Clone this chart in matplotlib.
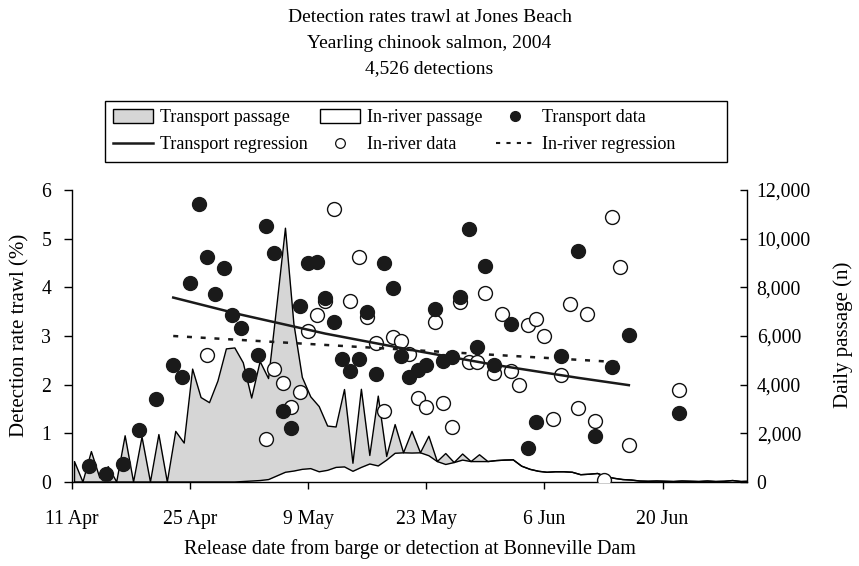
import numpy as np
import matplotlib
matplotlib.use("Agg")
import matplotlib.pyplot as plt
from matplotlib.patches import Patch, Rectangle
from matplotlib.lines import Line2D
from matplotlib.ticker import FuncFormatter

plt.rcParams["font.family"] = ["Liberation Serif", "DejaVu Serif"]

# ---- data (days counted from 11 April 2004) ----
tick_days = [0, 14, 28, 42, 56, 70]
tick_labels = ["11 Apr", "25 Apr", "9 May", "23 May", "6 Jun", "20 Jun"]

transport_days = [2, 4, 6, 8, 10, 12, 13, 14, 15, 16, 17, 18, 19, 20, 21, 22, 23, 24,
                  25, 26, 27, 28, 29, 30, 31, 32, 33, 34, 35, 36, 37, 38, 39, 40, 41,
                  42, 43, 44, 45, 46, 47, 48, 49, 50, 52, 54, 55, 58, 60, 62, 64, 66, 72]
transport_rate = [0.33, 0.17, 0.37, 1.06, 1.70, 2.40, 2.15, 4.08, 5.71, 4.62, 3.87, 4.39,
                  3.44, 3.17, 2.19, 2.61, 5.26, 4.70, 1.45, 1.10, 3.62, 4.49, 4.53, 3.79,
                  3.29, 2.53, 2.28, 2.53, 3.50, 2.22, 4.51, 3.99, 2.58, 2.16, 2.30, 2.40,
                  3.56, 2.49, 2.57, 3.80, 5.20, 2.77, 4.43, 2.41, 3.24, 0.70, 1.24, 2.59,
                  4.75, 0.95, 2.36, 3.03, 1.41]

inriver_days = [16, 23, 24, 25, 26, 27, 28, 29, 30, 31, 33, 34, 35, 36, 37, 38, 39, 40,
                41, 42, 43, 44, 45, 46, 47, 48, 49, 50, 51, 52, 53, 54, 55, 56, 57, 58,
                59, 60, 61, 62, 63, 64, 65, 66, 72]
inriver_rate = [2.61, 0.89, 2.32, 2.04, 1.54, 1.84, 3.11, 3.44, 3.71, 5.60, 3.72, 4.62,
                3.39, 2.85, 1.46, 2.98, 2.89, 2.63, 1.73, 1.54, 3.29, 1.63, 1.14, 3.70,
                2.46, 2.47, 3.89, 2.23, 3.46, 2.28, 1.99, 3.22, 3.35, 2.99, 1.30, 2.20,
                3.66, 1.53, 3.46, 1.25, 0.04, 5.45, 4.41, 0.77, 1.89]

transport_fit_days = [12, 20, 30, 40, 50, 60, 66]
transport_fit_rate = [3.79, 3.44, 3.05, 2.72, 2.41, 2.14, 1.99]
inriver_fit_days = [12, 65]
inriver_fit_rate = [3.00, 2.46]

passage_days = list(range(0, 81))
inriver_passage = [0] * 20 + [20, 40, 60, 100, 250, 400, 450, 520, 550, 420, 480, 600,
                   620, 440, 600, 740, 660, 900, 1180, 1200, 1190, 1200, 1080, 840,
                   720, 800, 900, 840, 840, 840, 880, 900, 910, 650, 520, 440, 400,
                   420, 420, 400, 300, 320, 350, 220, 150, 100, 80, 40, 30, 40, 30,
                   20, 40, 30, 20, 40, 20, 30, 60, 20, 30]
transport_passage = [840, 0, 1250, 170, 630, 0, 1900, 0, 1850, 0, 1950, 0, 2080, 1600,
                     4640, 3470, 3260, 4150, 5470, 5510, 4880, 3410, 4890, 4150, 7050,
                     10030, 6050, 3780, 2950, 2680, 1820, 1660, 3180, 330, 3210, 350,
                     2870, 150, 1180, 0, 890, 0, 800, 0, 450, 0, 250, 0, 280] + [0] * 32

# ---- figure ----
fig = plt.figure(figsize=(8.59, 5.66), dpi=100)
ax1 = fig.add_axes([0.0838, 0.1484, 0.7858, 0.5159])
ax2 = ax1.twinx()
ax1.set_zorder(ax2.get_zorder() + 1)
ax1.patch.set_visible(False)

# daily passage as stacked areas on the right axis
PASSAGE_SHIFT = 0.3
px = np.array(passage_days, dtype=float) + PASSAGE_SHIFT
riv = np.array(inriver_passage, dtype=float)
tot = riv + np.array(transport_passage, dtype=float)
ax2.fill_between(px, 0, riv, color="white", lw=0)
ax2.fill_between(px, riv, tot, color="#d6d6d6", lw=0)
ax2.plot(np.r_[px[0], px], np.r_[0, tot], color="black", lw=1.0)
ax2.plot(px, riv, color="black", lw=1.0)

# detection rates and regressions on the left axis
ax1.plot(inriver_days, inriver_rate, "o", ms=10, mfc="white", mec="#111111",
         mew=1.0, zorder=3)
ax1.plot(transport_fit_days, transport_fit_rate, "-", color="#1a1a1a", lw=1.8, zorder=4)
ax1.plot(inriver_fit_days, inriver_fit_rate, color="#1a1a1a", lw=1.8,
         linestyle=(0, (2, 3.5)), zorder=4)
ax1.plot(transport_days, transport_rate, "o", ms=10, mfc="#1a1a1a", mec="#1a1a1a",
         mew=1.0, zorder=5)

ax1.set_xlim(0, 80)
ax1.set_ylim(0, 6)
ax2.set_ylim(0, 12000)

for ax in (ax1, ax2):
    ax.spines["top"].set_visible(False)
    for s in ax.spines.values():
        s.set_linewidth(1.0)
ax1.spines["right"].set_visible(False)
ax2.spines["left"].set_visible(False)
ax2.spines["bottom"].set_visible(False)

ax1.set_xticks(tick_days)
ax1.set_xticklabels(tick_labels)
ax1.set_yticks(range(0, 7))
ax2.set_yticks(range(0, 12001, 2000))
ax2.yaxis.set_major_formatter(FuncFormatter(lambda v, p: f"{int(v):,}"))

tick_fs = 14.2
ax1.tick_params(axis="x", direction="out", length=5, width=1, pad=15, labelsize=tick_fs)
ax1.tick_params(axis="y", direction="out", length=6, width=1, pad=9, labelsize=tick_fs)
ax2.tick_params(axis="y", direction="in", length=5, width=1, pad=7, labelsize=tick_fs)

title_fs = 14
fig.text(0.5, 1 - 17 / 566, "Detection rates trawl at Jones Beach", ha="center", va="center", fontsize=title_fs)
fig.text(0.5, 1 - 43 / 566, "Yearling chinook salmon, 2004", ha="center", va="center", fontsize=title_fs)
fig.text(0.5, 1 - 69 / 566, "4,526 detections", ha="center", va="center", fontsize=title_fs)

fig.text(410 / 859, 1 - 549 / 566, "Release date from barge or detection at Bonneville Dam",
         ha="center", va="center", fontsize=14.5)
fig.text(20 / 859, 1 - 335 / 566, "Detection rate trawl (%)", rotation=90,
         ha="center", va="center", fontsize=15)
fig.text(843 / 859, 1 - 335 / 566, "Daily passage (n)", rotation=90,
         ha="center", va="center", fontsize=15)

# legend: entries laid out in three columns inside a plain rectangular frame
fig.add_artist(Rectangle((105 / 859, 1 - 162 / 566), 622 / 859, 61 / 566,
                         transform=fig.transFigure, fill=False, ec="black", lw=1.0))
handles = [
    Patch(facecolor="#d6d6d6", edgecolor="black", lw=1.0),
    Line2D([], [], color="#1a1a1a", lw=1.8),
    Patch(facecolor="white", edgecolor="black", lw=1.0),
    Line2D([], [], marker="o", ls="none", ms=7, mfc="white", mec="#111111", mew=0.9),
    Line2D([], [], marker="o", ls="none", ms=7, mfc="#1a1a1a", mec="#1a1a1a"),
    Line2D([], [], color="#1a1a1a", lw=1.5, linestyle=(0, (2, 3))),
]
labels = ["Transport passage", "Transport regression", "In-river passage",
          "In-river data", "Transport data", "In-river regression"]
fig.legend(handles, labels, ncol=3, loc="upper left",
           bbox_to_anchor=(105 / 859, 1 - 101 / 566),
           frameon=False, fontsize=13, handlelength=2.2, handleheight=0.8,
           handletextpad=0.4, columnspacing=0.7,
           borderpad=0.45, labelspacing=0.55, borderaxespad=0)

fig.savefig("out.png", dpi=100, facecolor="white")
